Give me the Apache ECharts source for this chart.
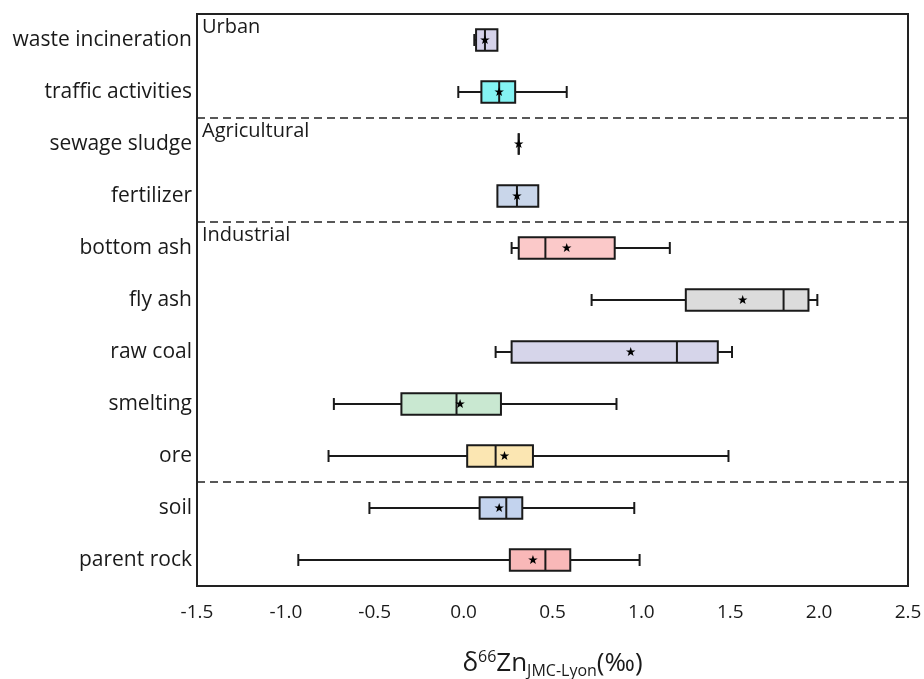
<!DOCTYPE html>
<html>
<head>
<meta charset="utf-8">
<script src="https://cdn.jsdelivr.net/npm/echarts@6/dist/echarts.min.js"></script>
<style>
    html, body { margin: 0; padding: 0; background: #fff; }
    #box-chart { width: 924px; height: 679px; }
</style>
</head>
<body>
<div id="box-chart"></div>
<script>
    // source categories, top to bottom
    var categories = ['waste incineration', 'traffic activities', 'sewage sludge', 'fertilizer',
        'bottom ash', 'fly ash', 'raw coal', 'smelting', 'ore', 'soil', 'parent rock'];

    // δ66Zn box statistics (‰)
    var mins    = [0.06, -0.03, 0.31, 0.19, 0.27, 0.72, 0.18, -0.73, -0.76, -0.53, -0.93];
    var q1s     = [0.07,  0.10, 0.31, 0.19, 0.31, 1.25, 0.27, -0.35,  0.02,  0.09,  0.26];
    var medians = [0.12,  0.20, 0.31, 0.30, 0.46, 1.80, 1.20, -0.04,  0.18,  0.24,  0.46];
    var q3s     = [0.19,  0.29, 0.31, 0.42, 0.85, 1.94, 1.43,  0.21,  0.39,  0.33,  0.60];
    var maxs    = [0.19,  0.58, 0.31, 0.42, 1.16, 1.99, 1.51,  0.86,  1.49,  0.96,  0.99];
    var means   = [0.12,  0.20, 0.31, 0.30, 0.58, 1.57, 0.94, -0.02,  0.23,  0.20,  0.39];

    // groups: name + first category of the group
    var groupNames = ['Urban', 'Agricultural', 'Industrial'];
    var groupFirst = ['waste incineration', 'sewage sludge', 'bottom ash'];
    // dashed separator drawn below these categories
    var separatorAfter = ['traffic activities', 'fertilizer', 'ore'];

    var xTicks = [-1.5, 2.5, 0.5]; // min, max, step

    var boxColors = ['#d5d2ea', '#84f3f3', '#c9d6ea', '#c9d6ea', '#fbc9c9', '#dcdcdc',
        '#d6d5ea', '#c9e8d1', '#fbe6b2', '#c3d3ee', '#f9b8b8'];

    var font = '"Open Sans", "Noto Sans", sans-serif';
    var ink = '#1a1a1a';

    var boxData = categories.map(function (c, i) {
        return [c, mins[i], q1s[i], medians[i], q3s[i], maxs[i], means[i]];
    });

    function starPoints(cx, cy, R, r) {
        var pts = [];
        for (var k = 0; k < 10; k++) {
            var a = -Math.PI / 2 + k * Math.PI / 5;
            var rr = (k % 2 === 0) ? R : r;
            pts.push([cx + rr * Math.cos(a), cy + rr * Math.sin(a)]);
        }
        return pts;
    }

    function renderBox(params, api) {
        var idx = api.value(0);
        var vMin = api.value(1), vQ1 = api.value(2), vMed = api.value(3),
            vQ3 = api.value(4), vMax = api.value(5), vMean = api.value(6);
        var band = api.size([0, 1])[1];
        var boxH = band * 0.41, capH = band * 0.23;
        var pMin = api.coord([vMin, idx]), pQ1 = api.coord([vQ1, idx]), pMed = api.coord([vMed, idx]),
            pQ3 = api.coord([vQ3, idx]), pMax = api.coord([vMax, idx]), pMean = api.coord([vMean, idx]);
        var y = pMed[1];
        var lineStyle = {stroke: ink, lineWidth: 2, fill: null};
        var children = [];

        if (vMin < vQ1) {
            children.push({type: 'line', shape: {x1: pMin[0], y1: y, x2: pQ1[0], y2: y}, style: lineStyle});
            children.push({type: 'line', shape: {x1: pMin[0], y1: y - capH / 2, x2: pMin[0], y2: y + capH / 2}, style: lineStyle});
        }
        if (vMax > vQ3) {
            children.push({type: 'line', shape: {x1: pQ3[0], y1: y, x2: pMax[0], y2: y}, style: lineStyle});
            children.push({type: 'line', shape: {x1: pMax[0], y1: y - capH / 2, x2: pMax[0], y2: y + capH / 2}, style: lineStyle});
        }
        children.push({
            type: 'rect',
            shape: {x: pQ1[0], y: y - boxH / 2, width: pQ3[0] - pQ1[0], height: boxH},
            style: {fill: boxColors[params.dataIndex], stroke: ink, lineWidth: 2}
        });
        children.push({type: 'line', shape: {x1: pMed[0], y1: y - boxH / 2, x2: pMed[0], y2: y + boxH / 2}, style: lineStyle});
        children.push({
            type: 'polygon',
            shape: {points: starPoints(pMean[0], y, 5, 2)},
            style: {fill: '#000', stroke: null}
        });
        return {type: 'group', children: children};
    }

    function renderSeparator(params, api) {
        var idx = api.value(1);
        var band = api.size([0, 1])[1];
        var p0 = api.coord([xTicks[0], idx]);
        var p1 = api.coord([xTicks[1], idx]);
        var y = p0[1] + band / 2;
        return {
            type: 'line',
            shape: {x1: p0[0], y1: y, x2: p1[0], y2: y},
            style: {stroke: '#222', lineWidth: 1.5, lineDash: [8, 5]}
        };
    }

    function renderGroupLabel(params, api) {
        var idx = api.value(1);
        var band = api.size([0, 1])[1];
        var p = api.coord([xTicks[0], idx]);
        return {
            type: 'text',
            x: p[0] + 5,
            y: p[1] - band / 2 + 3,
            style: {
                text: groupNames[params.dataIndex],
                fill: ink,
                font: '20px ' + font,
                verticalAlign: 'top',
                align: 'left'
            }
        };
    }

    var myChart = echarts.init(document.getElementById('box-chart'), null, {renderer: 'canvas'});

    var option = {
        animation: false,
        backgroundColor: '#fff',
        grid: {
            left: 197,
            right: 16,
            top: 14,
            bottom: 93,
            outerBoundsMode: 'none',
            show: true,
            borderColor: '#222',
            borderWidth: 2
        },
        xAxis: {
            type: 'value',
            min: xTicks[0],
            max: xTicks[1],
            interval: xTicks[2],
            axisLine: {show: false},
            axisTick: {show: false},
            splitLine: {show: false},
            axisLabel: {
                fontFamily: font,
                fontSize: 19,
                color: ink,
                margin: 17,
                formatter: function (v) { return v.toFixed(1); }
            },
            name: '{d|δ}{sup|66}{d|Zn}{sub|JMC-Lyon}{d|(‰)}',
            nameLocation: 'middle',
            nameGap: 62,
            nameTextStyle: {
                rich: {
                    d: {fontFamily: font, fontSize: 26, color: ink},
                    sup: {fontFamily: font, fontSize: 16, color: ink, padding: [0, 0, 13, 0]},
                    sub: {fontFamily: font, fontSize: 16, color: ink, padding: [15, 0, 0, 0]}
                }
            }
        },
        yAxis: {
            type: 'category',
            inverse: true,
            data: categories,
            axisLine: {show: false},
            axisTick: {show: false},
            splitLine: {show: false},
            axisLabel: {
                fontFamily: font,
                fontSize: 21,
                color: ink,
                margin: 5
            }
        },
        series: [
            {
                name: 'separators',
                type: 'custom',
                renderItem: renderSeparator,
                encode: {x: 0, y: 1},
                data: separatorAfter.map(function (c) { return [xTicks[0], c]; }),
                z: 1
            },
            {
                name: 'groups',
                type: 'custom',
                renderItem: renderGroupLabel,
                encode: {x: 0, y: 1},
                data: groupFirst.map(function (c) { return [xTicks[0], c]; }),
                z: 2
            },
            {
                name: 'δ66Zn',
                type: 'custom',
                renderItem: renderBox,
                encode: {x: [1, 2, 3, 4, 5, 6], y: 0},
                data: boxData,
                z: 3
            }
        ]
    };

    myChart.setOption(option);
</script>
</body>
</html>
